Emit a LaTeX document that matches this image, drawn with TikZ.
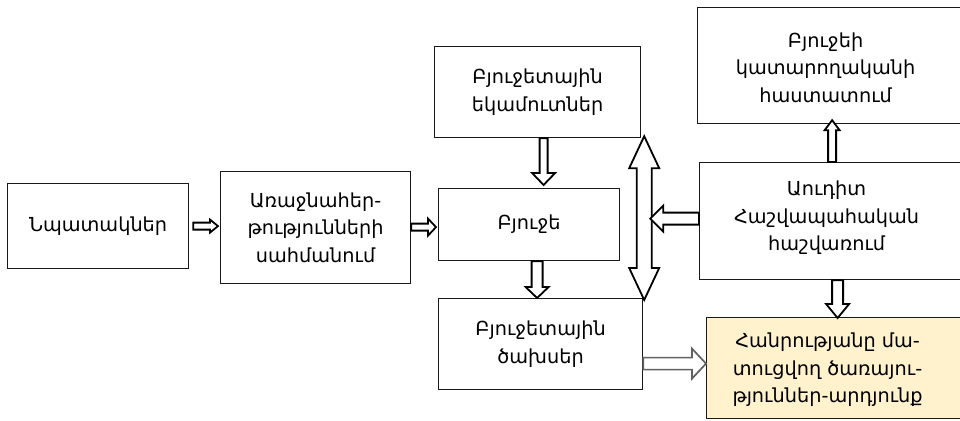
\documentclass[tikz,border=0pt]{standalone}
\usepackage{fontspec}
\setmainfont{DejaVu Sans}
\usetikzlibrary{calc}
\definecolor{resfill}{HTML}{FFF2CC}
\tikzset{
  box/.style={draw=black!90, line width=1.2pt, fill=white, inner sep=0pt, align=center, anchor=north west,
    font=\fontsize{19.3}{27.5}\selectfont},
  txt/.style={align=center, inner sep=0pt, font=\fontsize{19.3}{27.5}\selectfont},
  blk/.style={draw=black, line width=1.8pt, fill=white, line join=miter},
  blkg/.style={draw=black!62, line width=1.7pt, fill=white, line join=miter}
}
% vertical block arrow: #2 start, #3 tip (only y used), #4 shaft half, #5 head half, #6 head length
\newcommand\vblk[6][blk]{%
  \draw[#1] let \p1=(#2), \p2=(#3), \n1={ifthenelse(\y2>\y1,1,-1)}, \n2={\y2-\n1*#6pt} in
    (\x1-#4pt,\y1) -- (\x1-#4pt,\n2) -- (\x1-#5pt,\n2) -- (\x1,\y2)
    -- (\x1+#5pt,\n2) -- (\x1+#4pt,\n2) -- (\x1+#4pt,\y1) -- cycle;}
% horizontal block arrow: #2 start, #3 tip (only x used)
\newcommand\hblk[6][blk]{%
  \draw[#1] let \p1=(#2), \p2=(#3), \n1={ifthenelse(\x2>\x1,1,-1)}, \n2={\x2-\n1*#6pt} in
    (\x1,\y1-#4pt) -- (\n2,\y1-#4pt) -- (\n2,\y1-#5pt) -- (\x2,\y1)
    -- (\n2,\y1+#5pt) -- (\n2,\y1+#4pt) -- (\x1,\y1+#4pt) -- cycle;}
\begin{document}
\begin{tikzpicture}[x=1pt,y=-1pt]
\useasboundingbox (0,0) rectangle (960,420);
\fill[white] (0,0) rectangle (960,420);

\node[box, minimum width=181, minimum height=85] (goals) at (7,183) {Նպատակներ};
\node[box, minimum width=190, minimum height=112] (prio) at (220,171) {Առաջնահեր-\\թությունների\\սահմանում};
\node[box, minimum width=206, minimum height=91] (inc) at (434,46) {Բյուջետային\\եկամուտներ};
\node[box, minimum width=181, minimum height=72] (bud) at (438,188) {Բյուջե};
\node[box, minimum width=204, minimum height=91] (exp) at (438,298) {Բյուջետային\\ծախսեր};
\node[box, minimum width=266, minimum height=116] (appr) at (697,7) {};
\node[txt] (apprt) at ($(appr.center)+(-5,2)$) {Բյուջեի\\կատարողականի\\հաստատում};
\node[box, minimum width=264, minimum height=117] (audit) at (699,162) {};
\node[txt] (auditt) at ($(audit.center)+(-5,-3)$) {Աուդիտ\\Հաշվապահական\\հաշվառում};
\node[box, fill=resfill, minimum width=258, minimum height=101] (res) at (706,317) {};
\node[txt] (rest) at ($(res.center)+(-8,2)$) {Հանրությանը մա-\\տուցվող ծառայու-\\թյուններ-արդյունք};

% named end points of connectors
\coordinate (a1s) at ($(goals.east)+(4,0)$);
\coordinate (a1e) at ($(prio.west)+(-2,0)$);
\coordinate (a2s) at ($(prio.east)+(0,-0.5)$);
\coordinate (a2e) at ($(bud.west)+(-2,0)$);
\coordinate (a3s) at ($(inc.south)+(6,0)$);
\coordinate (a3e) at ($(bud.north)+(0,-3)$);
\coordinate (a4s) at ($(bud.south)+(8,0)$);
\coordinate (dtop) at ($(inc.south east)+(3,-2)$);
\coordinate (dbot) at ($(exp.north east)+(1.5,2)$);
\coordinate (dedge) at ($(dtop)+(6,0)$);
\coordinate (a6s) at ($(audit.west)+(0,-2.5)$);
\coordinate (a7s) at ($(audit.north)+(0.5,0)$);
\coordinate (a7e) at ($(appr.south)+(0,-4)$);
\coordinate (a8s) at ($(audit.south)+(6,0)$);
\coordinate (a8e) at ($(res.north)+(0,1)$);
\coordinate (a9s) at ($(exp.east)+(0,19.5)$);

% connectors
\hblk{a1s}{a1e}{3.5}{6.5}{8}
\hblk{a2s}{a2e}{3.5}{8.5}{8}
\vblk{a3s}{a3e}{4}{11.5}{12}
\vblk{a4s}{exp.north}{5.5}{11.5}{11}

\draw[blk] let \p1=(dtop), \p2=(dbot) in
  (\x1,\y1) -- (\x1+15pt,\y1-32pt) -- (\x1+7.5pt,\y1-32pt) -- (\x1+7.5pt,\y2+32pt)
  -- (\x1+15pt,\y2+32pt) -- (\x1,\y2) -- (\x1-15pt,\y2+32pt) -- (\x1-7.5pt,\y2+32pt)
  -- (\x1-7.5pt,\y1-32pt) -- (\x1-15pt,\y1-32pt) -- cycle;

\hblk{a6s}{dedge}{6}{13}{13}
\vblk{a7s}{a7e}{4}{7.5}{10}
\vblk{a8s}{a8e}{5.5}{11.5}{14}
\hblk[blkg]{a9s}{res.west}{6}{15}{14}
\end{tikzpicture}
\end{document}
